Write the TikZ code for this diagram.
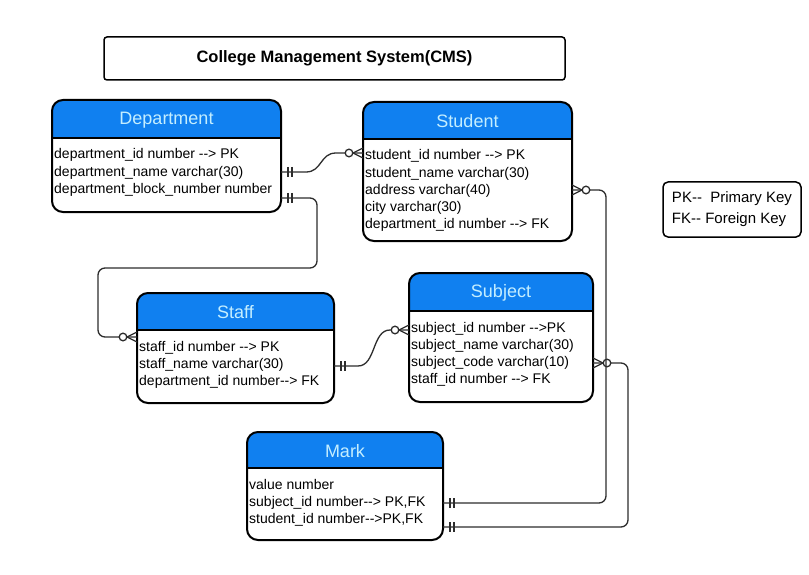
\documentclass[tikz,border=0pt]{standalone}
\usepackage{fontspec}
\setmainfont{Liberation Sans}[Ligatures=TeXOff]
\usetikzlibrary{fit}
\definecolor{hdrblue}{RGB}{16,128,240}
\definecolor{hdrtext}{RGB}{196,238,255}
\definecolor{lnk}{RGB}{45,45,45}
\tikzset{
  conn/.style={draw=lnk, line width=1.3pt},
  rowtxt/.style={inner sep=0pt, font=\fontsize{14}{16}\selectfont},
  boxline/.style={draw, line width=2pt, rounded corners=11pt, inner sep=0pt, outer sep=0pt},
}
\newcommand{\entity}[8]{%
  \begin{scope}
    \clip[rounded corners=11pt] (#2,#3) rectangle (#4,#5);
    \fill[white] (#2,#3) rectangle (#4,#5);
    \fill[hdrblue] (#2,#3) rectangle (#4,#6);
  \end{scope}
  \draw[line width=1.6pt] (#2,#6) -- (#4,#6);
  \node[boxline, fit={(#2,#3) (#4,#5)}] (#1) {};
  \node[text=hdrtext, inner sep=0pt, font=\fontsize{18}{20}\selectfont] (#1title) at ({(#2+#4)/2},{(#3+#6)/2+1}) {#7};
  \foreach \t [count=\i] in {#8}
    \node[rowtxt, anchor=base west] (#1row\i) at ({#2+2},{#6+3.8+\i*17.2}) {\t};
}
\newcommand{\bars}[2]{%
  \draw[conn] ([xshift=#2*7pt,yshift=5pt]#1) -- ([xshift=#2*7pt,yshift=-5pt]#1)
              ([xshift=#2*11pt,yshift=5pt]#1) -- ([xshift=#2*11pt,yshift=-5pt]#1);}
\newcommand{\crowo}[2]{%
  \draw[conn] ([xshift=#2*10pt]#1) -- ([yshift=5pt]#1)
              ([xshift=#2*10pt]#1) -- ([yshift=-5pt]#1);
  \draw[conn, fill=white] ([xshift=#2*14pt]#1) circle[radius=3.8pt];}
\begin{document}
\begin{tikzpicture}[x=1pt, y=-1pt]
\useasboundingbox (0,0) rectangle (809,575);
\fill[white] (0,0) rectangle (809,575);

% title
\node[draw, line width=1.5pt, rounded corners=3pt, inner sep=0pt, outer sep=0pt, fit={(104,37) (565,80)}] (title) {};
\node[font=\bfseries\fontsize{16.5}{18}\selectfont] (titletext) at (title.center) {College Management System(CMS)};

% legend
\node[draw, line width=1.5pt, rounded corners=5pt, inner sep=0pt, outer sep=0pt, fit={(663,182) (801,237)}] (legend) {};
\node[align=left, inner sep=0pt, font=\fontsize{15}{21}\selectfont] (legendtext) at (legend.center) {PK--~ Primary Key\\FK-- Foreign Key};

% entities
\entity{dept}{52}{100}{281}{212}{138}{Department}{{department\_id number --> PK},{department\_name varchar(30)},{department\_block\_number number}}
\entity{stud}{363}{102}{572}{241}{139}{Student}{{student\_id number --> PK},{student\_name varchar(30)},{address varchar(40)},{city varchar(30)},{department\_id number --> FK}}
\entity{staff}{137}{293}{334}{403}{330}{Staff}{{staff\_id number --> PK},{staff\_name varchar(30)},{department\_id number--> FK}}
\entity{subj}{409}{273}{593}{402}{311}{Subject}{{subject\_id number -->PK},{subject\_name varchar(30)},{subject\_code varchar(10)},{staff\_id number --> FK}}
\entity{mark}{247}{432}{443}{540}{468}{Mark}{{value number},{subject\_id number--> PK,FK},{student\_id number-->PK,FK}}

% Department -- Student
\coordinate (a1) at (dept.east |- 0,172);
\coordinate (a2) at (stud.west |- 0,153);
\draw[conn] (a1) -- (306,172) .. controls (322,172) and (320,153) .. (336,153) -- (a2);
\bars{a1}{1}
\crowo{a2}{-1}

% Department -- Staff
\coordinate (b1) at (dept.east |- 0,198);
\coordinate (b2) at (staff.west |- 0,337);
\draw[conn, rounded corners=7pt] (b1) -- (317,198) -- (317,268) -- (98,268) -- (98,337) -- (b2);
\bars{b1}{1}
\crowo{b2}{-1}

% Staff -- Subject
\coordinate (c1) at (staff.east |- 0,366);
\coordinate (c2) at (subj.west |- 0,330);
\draw[conn] (c1) -- (358,366) .. controls (376,366) and (372,330) .. (390,330) -- (c2);
\bars{c1}{1}
\crowo{c2}{-1}

% Subject -- Mark
\coordinate (e1) at (subj.east |- 0,363);
\coordinate (e2) at (mark.east |- 0,527);
\draw[conn, rounded corners=7pt] (e1) -- (628,363) -- (628,527) -- (e2);
\crowo{e1}{1}
\bars{e2}{1}

% Student -- Mark
\coordinate (d1) at (stud.east |- 0,190);
\coordinate (d2) at (mark.east |- 0,503);
\draw[conn, rounded corners=7pt] (d1) -- (606,190) -- (606,503) -- (d2);
\crowo{d1}{1}
\bars{d2}{1}
\end{tikzpicture}
\end{document}
